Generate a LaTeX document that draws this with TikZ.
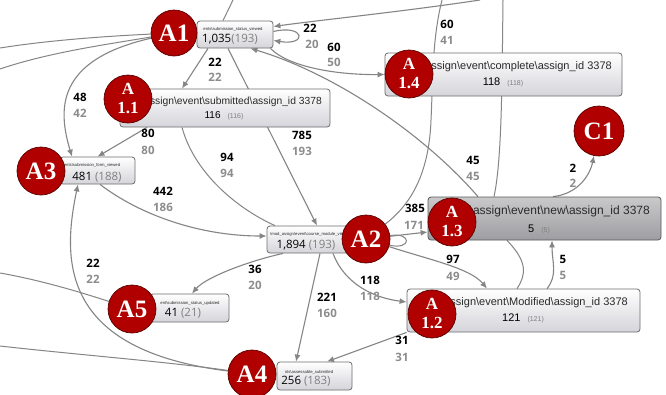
\documentclass[tikz,border=0pt]{standalone}
\usepackage{fontspec}
\setmainfont{Liberation Sans}
\newfontfamily\circfont{Liberation Serif}
\newfontfamily\lblfont{Open Sans}
\usetikzlibrary{arrows.meta,calc}
\definecolor{cred}{HTML}{B00000}
\definecolor{cborder}{HTML}{5A0000}
\definecolor{edgegray}{HTML}{858585}
\definecolor{labgray}{HTML}{8C8C8C}
\definecolor{boxborder}{HTML}{6E6E6E}
\definecolor{boxbot}{HTML}{D4D4DA}
\definecolor{darktop}{HTML}{C9C9CB}
\definecolor{darkbot}{HTML}{9E9EA2}
\definecolor{boxtext}{HTML}{2A2A2A}
\definecolor{cntgray}{HTML}{808080}
\pgfdeclarelayer{bg}\pgfsetlayers{bg,main}
\newcommand\bs{\textbackslash}
\newcommand\smallcnt[1]{{\fontsize{7}{8}\selectfont\color{cntgray}#1}}
\begin{document}
\begin{tikzpicture}[x=1pt,y=-1pt,
 box/.style={draw=boxborder, line width=0.8pt, rounded corners=3pt, top color=white, bottom color=boxbot, inner sep=0, anchor=center},
 darkbox/.style={box, top color=darktop, bottom color=darkbot, draw=black!65},
 circ/.style={circle, fill=cred, draw=cborder, line width=0.7pt, inner sep=0, text=white, font=\circfont\bfseries\fontsize{25}{25}\selectfont},
 circs/.style={circ, font=\circfont\bfseries\fontsize{17}{19}\selectfont, align=center},
 edge/.style={draw=edgegray, line width=1.1pt, -{Latex[length=7pt,width=6pt]}},
 bgline/.style={draw=edgegray, line width=1pt},
 lab/.style={font=\lblfont\bfseries\fontsize{11.5}{12}\selectfont, inner sep=0, text=black},
 labg/.style={lab, text=labgray},
 tiny/.style={font=\fontsize{4.2}{5}\selectfont, text=boxtext, inner sep=0},
 long/.style={font=\fontsize{11}{13}\selectfont, text=boxtext, inner sep=0},
 cnt/.style={font=\lblfont\fontsize{11.5}{12}\selectfont, inner sep=0, text=black},
 cnt2/.style={font=\fontsize{11}{12}\selectfont, inner sep=0, text=black},
]
\useasboundingbox (0,0) rectangle (666,394);
\begin{pgfonlayer}{bg}
\fill[white] (0,0) rectangle (666,394);
\end{pgfonlayer}

% boxes
\node[box, minimum width=76pt, minimum height=27pt] (bA1) at (235,34.5) {};
\node[box, minimum width=210pt, minimum height=38pt] (bA11) at (225,108) {};
\node[box, minimum width=75pt, minimum height=27pt] (bA3) at (97.5,170.5) {};
\node[box, minimum width=237pt, minimum height=43pt] (bA14) at (503.5,74.5) {};
\node[darkbox, minimum width=233pt, minimum height=43pt] (bA13) at (544.5,218.5) {};
\node[box, minimum width=85pt, minimum height=27pt] (bA2) at (309.5,239.5) {};
\node[box, minimum width=233pt, minimum height=43pt] (bA12) at (523.5,310.5) {};
\node[box, minimum width=79pt, minimum height=28pt] (bA5) at (189.5,308) {};
\node[box, minimum width=75pt, minimum height=28pt] (bA4) at (314.5,376) {};

% box texts
\node[tiny] (tA1) at (233,29) {ents\bs submission\_status\_viewed};
\node[cnt] (nA1) at (230,39.5) {1,035{\color{cntgray}(193)}};
\node[long, font=\fontsize{10.3}{12}\selectfont, anchor=east] (tA11) at (322,102) {\bs assign\bs event\bs submitted\bs assign\_id 3378};
\node[cnt2, font=\fontsize{10}{12}\selectfont] (nA11) at (224,116) {116\hspace{7pt}\smallcnt{(116)}};
\node[tiny] (tA3) at (92,165.5) {ents\bs submission\_form\_viewed};
\node[cnt] (nA3) at (97,177) {481 {\color{cntgray}(188)}};
\node[long, anchor=east] (tA14) at (612,67) {\bs assign\bs event\bs complete\bs assign\_id 3378};
\node[cnt2] (nA14) at (503,82) {118\hspace{7pt}\smallcnt{(118)}};
\node[long, font=\fontsize{12}{13}\selectfont, anchor=east] (tA13) at (650,211.5) {\bs assign\bs event\bs new\bs assign\_id 3378};
\node[cnt2] (nA13) at (539,229) {5\hspace{7pt}\smallcnt{(5)}};
\node[long, anchor=east] (tA12) at (628,303) {\bs assign\bs event\bs Modified\bs assign\_id 3378};
\node[cnt2] (nA12) at (523,318) {121\hspace{7pt}\smallcnt{(121)}};
\node[tiny, anchor=west] (tA2) at (270,234) {\bs mod\_assign\bs event\bs course\_module\_viewed};
\node[cnt] (nA2) at (306,245) {1,894 {\color{cntgray}(193)}};
\node[tiny] (tA5) at (190,303) {ent\bs submission\_status\_updated};
\node[cnt] (nA5) at (183,313) {41 {\color{cntgray}(21)}};
\node[tiny] (tA4) at (309,372) {nts\bs assessable\_submitted};
\node[cnt] (nA4) at (306,381.5) {256 {\color{cntgray}(183)}};

% circles
\node[circ, minimum size=46pt] (cA1) at (174,33) {A1};
\node[circs, minimum size=48pt] (cA11) at (128,99) {A\\1.1};
\node[circ, minimum size=48pt] (cA3) at (41,171) {A3};
\node[circs, minimum size=48pt] (cA14) at (409,74) {A\\1.4};
\node[circ, minimum size=50pt] (cC1) at (599,131) {C1};
\node[circs, minimum size=48pt] (cA13) at (452,222) {A\\1.3};
\node[circ, minimum size=48pt] (cA2) at (366,239) {A2};
\node[circs, minimum size=48pt] (cA12) at (432,314) {A\\1.2};
\node[circ, minimum size=48pt] (cA5) at (132,309) {A5};
\node[circ, minimum size=48pt] (cA4) at (252,374) {A4};

% free ends
\coordinate (top232) at (233,0);
\coordinate (top442) at (442,0);
\coordinate (top480) at (480,0);
\coordinate (top503) at (503,0);
\coordinate (left1) at (0,48);
\coordinate (left2) at (0,69);
\coordinate (left3) at (0,273);
\coordinate (left4) at (0,346);

\begin{pgfonlayer}{bg}
\draw[bgline] (left1) .. controls (50,40) and (110,36) .. (cA1);
\draw[bgline] (left2) .. controls (50,52) and (110,44) .. (cA1);
\draw[bgline] (left3) .. controls (40,280) and (80,292) .. (cA5);
\draw[bgline] (left4) .. controls (80,355) and (170,362) .. (cA4);
\draw[bgline] (top232) -- ([xshift=-12pt]bA1.north);
\draw[bgline] (top442) .. controls (432,40) and (433,80) .. (431,120) .. controls (429,175) and (410,205) .. (cA2);
\draw[bgline] (top503) .. controls (502,80) and (502,160) .. ([xshift=-50.5pt]bA13.north);
\draw[edge] (top480) .. controls (400,12) and (320,20) .. ([yshift=8pt]bA1.east);
\draw[edge] ([yshift=3pt]bA1.east) .. controls (305,24) and (308,46) .. ([yshift=-6pt]bA1.east);
\draw[edge] ([xshift=-3pt]bA1.south east) .. controls (290,68) and (340,75) .. (bA14.west);
\draw[edge] ([xshift=-66.5pt]bA13.north) .. controls (420,130) and (330,72) .. ([xshift=-23pt]bA1.south east);
\draw[edge] (cA1) .. controls (55,60) and (58,110) .. ([xshift=-25.5pt]bA3.north);
\draw[edge] ([xshift=-27pt]bA1.south) -- ([xshift=-43pt]bA11.north);
\draw[edge] ([xshift=-78pt]bA11.south) -- (bA3.north);
\draw[edge] ([xshift=-7pt]bA1.south) -- ([xshift=7.5pt]bA2.north);
\draw[bgline] ([xshift=-43pt]bA11.south) .. controls (195,175) and (240,210) .. ([xshift=-34.5pt]bA2.north);
\draw[edge] ([xshift=2.5pt]bA3.south) .. controls (140,215) and (200,236) .. ([yshift=3.5pt]bA2.west);
\draw[edge] (cA4) .. controls (60,350) and (62,260) .. ([xshift=-19.5pt]bA3.south);
\draw[edge] ([xshift=-26.5pt]bA2.south) .. controls (245,262) and (205,278) .. ([xshift=2.5pt]bA5.north);
\draw[edge] ([xshift=10.5pt]bA2.south) -- ([xshift=-18.5pt]bA4.north);
\draw[edge] (bA12.south west) -- ([xshift=12.5pt]bA4.north);
\draw[edge] ([xshift=23.5pt]bA2.south) .. controls (345,285) and (375,298) .. ([yshift=8.5pt]bA12.west);
\draw[edge] (cA2) .. controls (430,260) and (470,268) .. ([xshift=-36.5pt]bA12.north);
\draw[edge] (cA2) -- ([yshift=-13.5pt]bA13.west);
\draw[bgline] (cA2.8) .. controls (412,232) and (412,250) .. (cA2.-15);
\draw[edge] ([xshift=23.5pt]bA12.north) .. controls (558,275) and (552,262) .. ([xshift=7.5pt]bA13.south);
\draw[bgline] ([xshift=-37.5pt]bA13.south) .. controls (528,262) and (526,275) .. ([xshift=-6.5pt]bA12.north);
\draw[edge] ([xshift=8.5pt]bA13.north) .. controls (578,194) and (590,175) .. (cC1);
\end{pgfonlayer}

% edge labels
\node[lab] (e1a) at (310,28) {22};  \node[labg] (e1b) at (312,44) {20};
\node[lab] (e2a) at (334,47) {60};  \node[labg] (e2b) at (334,62) {50};
\node[lab] (e3a) at (447,24) {60};  \node[labg] (e3b) at (447,40) {41};
\node[lab] (e4a) at (215,62) {22};  \node[labg] (e4b) at (215,77) {22};
\node[lab] (e5a) at (80,97) {48};   \node[labg] (e5b) at (80,113) {42};
\node[lab] (e6a) at (148,133) {80}; \node[labg] (e6b) at (148,150) {80};
\node[lab] (e7a) at (302,135) {785}; \node[labg] (e7b) at (302,151) {193};
\node[lab] (e8a) at (227,157) {94}; \node[labg] (e8b) at (227,173) {94};
\node[lab] (e9a) at (163,191) {442}; \node[labg] (e9b) at (163,207) {186};
\node[lab] (e10a) at (473,160) {45}; \node[labg] (e10b) at (473,176) {45};
\node[lab] (e11a) at (573,168) {2};  \node[labg] (e11b) at (573,183) {2};
\node[lab] (e12a) at (415,208) {385}; \node[labg] (e12b) at (414,225) {171};
\node[lab] (e13a) at (453,259) {97}; \node[labg] (e13b) at (453,276) {49};
\node[lab] (e14a) at (563,259) {5};  \node[labg] (e14b) at (563,275) {5};
\node[lab] (e15a) at (370,280) {118}; \node[labg] (e15b) at (370,296) {118};
\node[lab] (e16a) at (255,269) {36}; \node[labg] (e16b) at (255,285) {20};
\node[lab] (e17a) at (327,297) {221}; \node[labg] (e17b) at (327,313) {160};
\node[lab] (e18a) at (402,340) {31}; \node[labg] (e18b) at (402,357) {31};
\node[lab] (e19a) at (93,263) {22};  \node[labg] (e19b) at (93,279) {22};
\end{tikzpicture}
\end{document}
